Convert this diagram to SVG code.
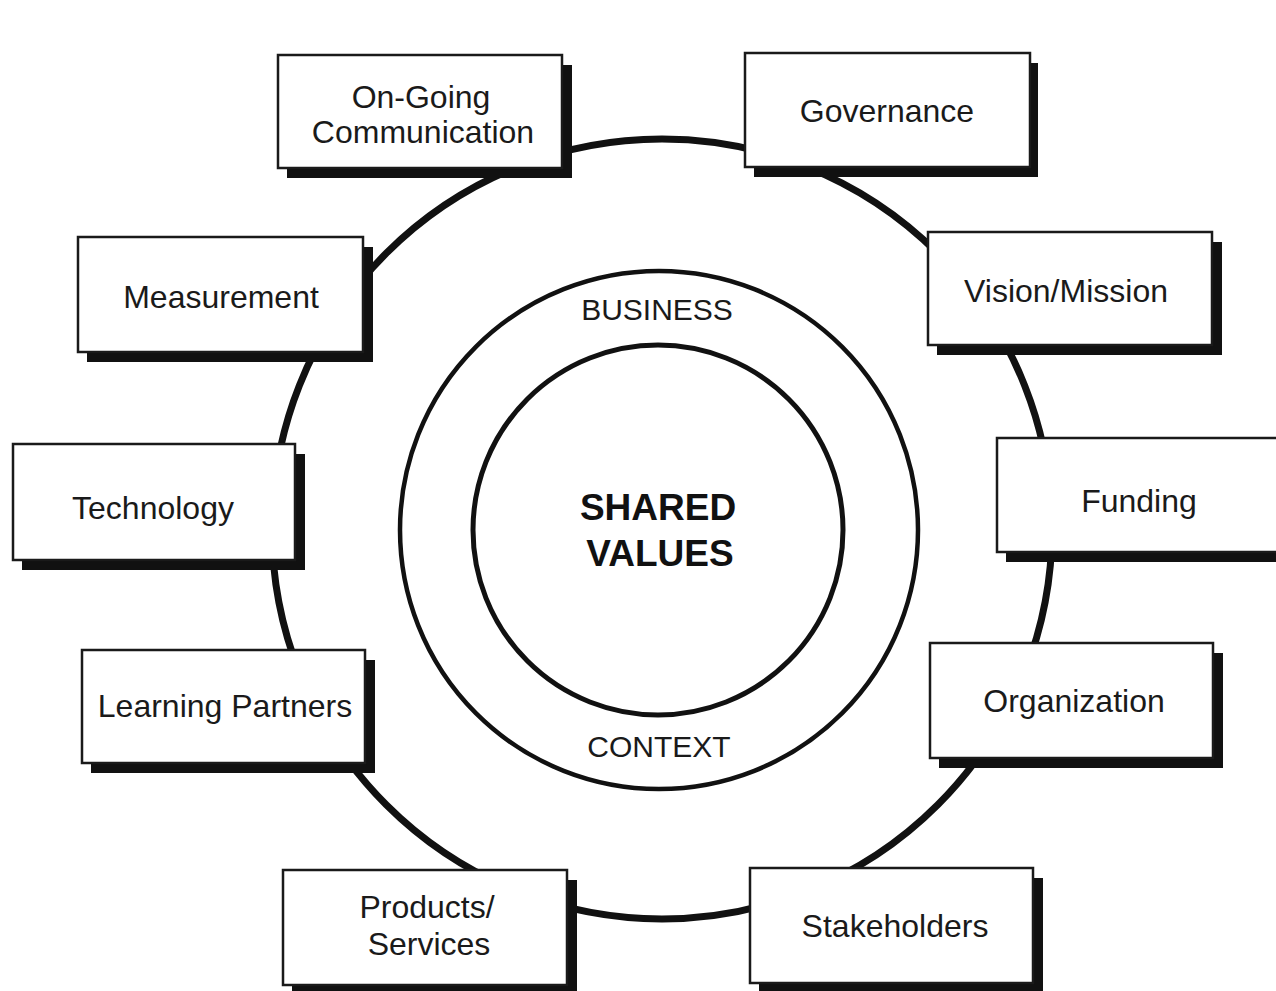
<svg xmlns="http://www.w3.org/2000/svg" width="1276" height="991" viewBox="0 0 1276 991">
<style>
.box{fill:#fff;stroke:#1a1a1a;stroke-width:2.5}
.sh{fill:#111}
.lbl{font-family:"Liberation Sans",Arial,sans-serif;font-size:32px;fill:#1a1a1a;text-anchor:middle}
.ring{fill:none;stroke:#111}
.ctx{font-family:"Liberation Sans",Arial,sans-serif;font-size:30px;fill:#1a1a1a;text-anchor:middle}
.core{font-family:"Liberation Sans",Arial,sans-serif;font-size:37px;font-weight:bold;fill:#111;text-anchor:middle}
</style>
<rect width="1276" height="991" fill="#fff"/>
<g id="connectors">
<circle class="ring" cx="662" cy="529" r="390" stroke-width="7"/>
</g>
<g id="center">
<circle class="ring" cx="659" cy="530" r="259" stroke-width="4.5"/>
<circle class="ring" cx="658" cy="530" r="185" stroke-width="5"/>
<text class="ctx" x="657" y="320">BUSINESS</text>
<text class="ctx" x="659" y="757">CONTEXT</text>
<text class="core" x="658" y="520">SHARED</text>
<text class="core" x="660" y="566">VALUES</text>
</g>
<g id="ongoing">
<rect class="sh" x="287" y="65" width="285" height="113"/>
<rect class="box" x="278" y="55" width="284" height="113"/>
<text class="lbl" x="421" y="108">On-Going</text>
<text class="lbl" x="423" y="143">Communication</text>
</g>
<g id="governance">
<rect class="sh" x="754" y="63" width="284" height="114"/>
<rect class="box" x="745" y="53" width="285" height="114"/>
<text class="lbl" x="887" y="122">Governance</text>
</g>
<g id="measurement">
<rect class="sh" x="87" y="247" width="286" height="115"/>
<rect class="box" x="78" y="237" width="285" height="115"/>
<text class="lbl" x="221" y="308">Measurement</text>
</g>
<g id="vision">
<rect class="sh" x="937" y="242" width="285" height="113"/>
<rect class="box" x="928" y="232" width="284" height="113"/>
<text class="lbl" x="1066" y="302">Vision/Mission</text>
</g>
<g id="technology">
<rect class="sh" x="22" y="454" width="283" height="116"/>
<rect class="box" x="13" y="444" width="282" height="116"/>
<text class="lbl" x="153" y="519">Technology</text>
</g>
<g id="funding">
<rect class="sh" x="1006" y="448" width="280" height="114"/>
<rect class="box" x="997" y="438" width="290" height="114"/>
<text class="lbl" x="1139" y="512">Funding</text>
</g>
<g id="learning">
<rect class="sh" x="91" y="660" width="284" height="113"/>
<rect class="box" x="82" y="650" width="283" height="113"/>
<text class="lbl" x="225" y="717">Learning Partners</text>
</g>
<g id="organization">
<rect class="sh" x="939" y="653" width="284" height="115"/>
<rect class="box" x="930" y="643" width="283" height="115"/>
<text class="lbl" x="1074" y="712">Organization</text>
</g>
<g id="products">
<rect class="sh" x="292" y="880" width="285" height="115"/>
<rect class="box" x="283" y="870" width="284" height="115"/>
<text class="lbl" x="427" y="918">Products/</text>
<text class="lbl" x="429" y="955">Services</text>
</g>
<g id="stakeholders">
<rect class="sh" x="759" y="878" width="284" height="115"/>
<rect class="box" x="750" y="868" width="283" height="115"/>
<text class="lbl" x="895" y="937">Stakeholders</text>
</g>
</svg>
